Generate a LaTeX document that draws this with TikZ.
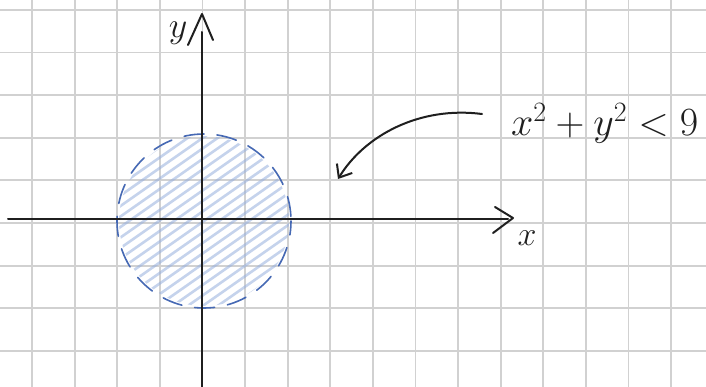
\documentclass[tikz,border=0pt]{standalone}
\usepackage{fix-cm}
\usetikzlibrary{arrows.meta}
\tikzset{
  gridline/.style={draw=black!18, line width=1.8pt},
  axisline/.style={draw=black!88, line width=2pt, line cap=round, line join=round},
  hatchline/.style={draw={rgb,255:red,150;green,175;blue,222}, line width=2.6pt, opacity=0.55, line cap=round},
  rim/.style={draw={rgb,255:red,70;green,105;blue,180}, line width=1.6pt, dash pattern=on 20pt off 13pt, line cap=round},
  hand/.style={text=black!88, inner sep=0pt},
  pointer/.style={draw=black!88, line width=2pt, line cap=round, -{Straight Barb[length=11pt,width=18pt,line width=2pt]}}
}
\begin{document}
\begin{tikzpicture}[x=1pt,y=-1pt]
\useasboundingbox (0,0) rectangle (706,387);
\fill[white] (0,0) rectangle (706,387);
% grid
\foreach \i in {0,...,15} \draw[gridline] (32+42.6*\i,0) -- (32+42.6*\i,387);
\foreach \j in {0,...,8} \draw[gridline] (0,10+42.6*\j) -- (706,10+42.6*\j);
% disc hatch
\coordinate (C) at (204,221);
\begin{scope}
  \clip (C) circle (85);
  \begin{scope}[shift={(204,221)}, rotate=35]
    \foreach \k in {-11,...,11} \draw[hatchline] (-110,\k*8.6) -- (110,\k*8.6);
  \end{scope}
\end{scope}
\draw[rim, dash phase=6pt] (C) circle (87);
% axes
\coordinate (yb) at (202,387);
\coordinate (yt) at (202,32);
\coordinate (ytip) at (202,14);
\coordinate (yl) at (188,45);
\coordinate (yr) at (213,40);
\draw[axisline] (yb) -- (yt);
\draw[axisline] (yl) -- (ytip) -- (yr);
\coordinate (xl) at (8,219);
\coordinate (xr) at (508,219);
\coordinate (xtip) at (513,218);
\coordinate (xu) at (495,207);
\coordinate (xd) at (493,233);
\draw[axisline] (xl) -- (xr);
\draw[axisline] (xu) -- (xtip) -- (xd);
% labels
\node[hand, font=\fontsize{36}{42}\selectfont] (ylab) at (178,33) {$y$};
\node[hand, font=\fontsize{34}{40}\selectfont] (xlab) at (527,238) {$x$};
\node[hand, font=\fontsize{40}{48}\selectfont, anchor=base west] (eq) at (511,136) {$x^2+y^2<9$};
% pointer
\coordinate (ptip) at (338,179);
\draw[pointer] (482,114) .. controls (420,106) and (365,135) .. (ptip);
\end{tikzpicture}
\end{document}
